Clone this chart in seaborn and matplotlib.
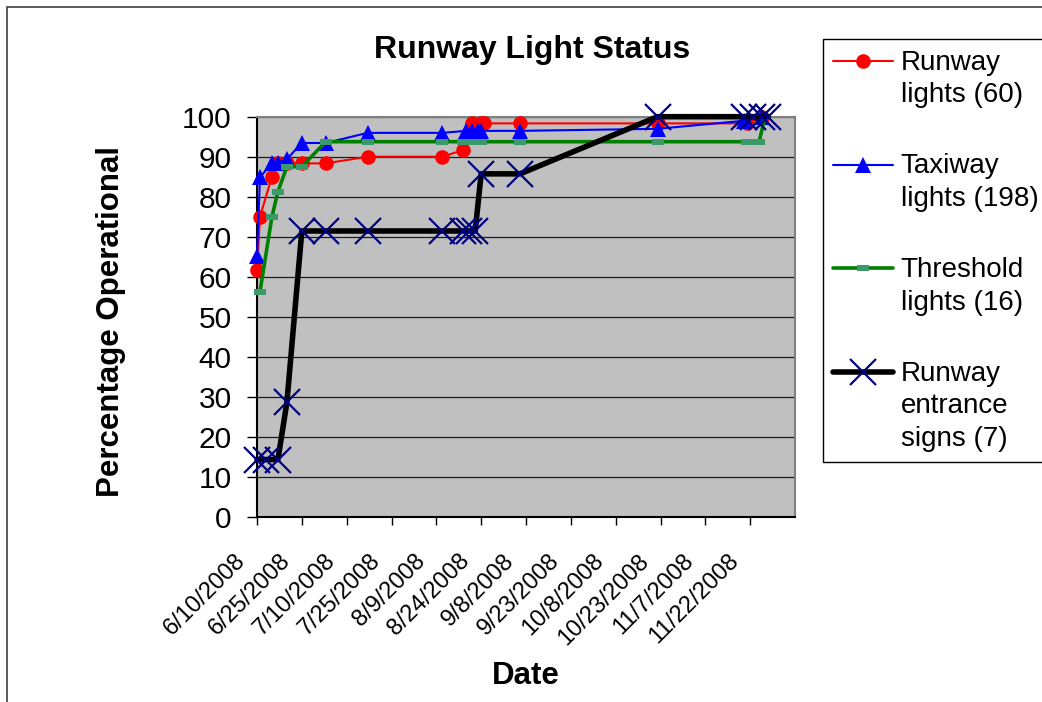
import numpy as np
import pandas as pd
import matplotlib
matplotlib.use("Agg")
import matplotlib.pyplot as plt
import matplotlib.dates as mdates
from matplotlib.patches import Rectangle
from matplotlib.ticker import FixedLocator
from matplotlib.transforms import ScaledTranslation
import seaborn as sns

# ---------------- data ----------------
runway_dates = ["2008-06-10", "2008-06-11", "2008-06-15", "2008-06-17", "2008-06-20", "2008-06-25",
                "2008-07-03", "2008-07-17", "2008-08-11", "2008-08-18", "2008-08-21", "2008-08-24",
                "2008-08-25", "2008-09-06", "2008-10-22", "2008-11-21", "2008-11-26"]
runway_pct = [61.67, 75.0, 85.0, 88.33, 88.33, 88.33, 88.33, 90.0, 90.0, 91.67, 98.33, 98.33,
              98.33, 98.33, 98.33, 98.33, 100.0]

taxiway_dates = ["2008-06-10", "2008-06-11", "2008-06-15", "2008-06-17", "2008-06-20", "2008-06-25",
                 "2008-07-03", "2008-07-17", "2008-08-11", "2008-08-19", "2008-08-21", "2008-08-23",
                 "2008-08-24", "2008-09-06", "2008-10-22", "2008-11-20", "2008-11-26"]
taxiway_pct = [65.15, 84.85, 88.38, 88.38, 89.39, 93.43, 93.43, 95.96, 95.96, 96.46, 96.46, 96.46,
               96.46, 96.46, 96.97, 98.99, 100.0]

threshold_dates = ["2008-06-11", "2008-06-15", "2008-06-17", "2008-06-20", "2008-06-25", "2008-07-03",
                   "2008-07-17", "2008-08-11", "2008-08-18", "2008-08-20", "2008-08-22", "2008-08-24",
                   "2008-09-06", "2008-10-22", "2008-11-21", "2008-11-25", "2008-11-27"]
threshold_pct = [56.25, 75.0, 81.25, 87.5, 87.5, 93.75, 93.75, 93.75, 93.75, 93.75, 93.75, 93.75,
                 93.75, 93.75, 93.75, 93.75, 100.0]

signs_dates = ["2008-06-10", "2008-06-13", "2008-06-17", "2008-06-20", "2008-06-25", "2008-07-03",
               "2008-07-17", "2008-08-11", "2008-08-18", "2008-08-20", "2008-08-22", "2008-08-24",
               "2008-09-06", "2008-10-22", "2008-11-20", "2008-11-23", "2008-11-26", "2008-11-28"]
signs_pct = [14.29, 14.29, 14.29, 28.57, 71.43, 71.43, 71.43, 71.43, 71.43, 71.43, 71.43, 85.71,
             85.71, 100.0, 100.0, 100.0, 100.0, 100.0]

series_labels = ["Runway\nlights (60)", "Taxiway\nlights (198)", "Threshold\nlights (16)",
                 "Runway\nentrance\nsigns (7)"]
tick_dates = ["2008-06-10", "2008-06-25", "2008-07-10", "2008-07-25", "2008-08-09", "2008-08-24",
              "2008-09-08", "2008-09-23", "2008-10-08", "2008-10-23", "2008-11-07", "2008-11-22"]
tick_labels = ["6/10/2008", "6/25/2008", "7/10/2008", "7/25/2008", "8/9/2008", "8/24/2008",
               "9/8/2008", "9/23/2008", "10/8/2008", "10/23/2008", "11/7/2008", "11/22/2008"]
x_range = ["2008-06-10", "2008-12-07"]
y_ticks = [0, 10, 20, 30, 40, 50, 60, 70, 80, 90, 100]

# ---------------- style ----------------
sns.set_theme(style="ticks")
plt.rcParams['font.family'] = ['Liberation Sans', 'DejaVu Sans']
plt.rcParams.update({'text.color': 'black', 'axes.labelcolor': 'black',
                     'xtick.color': 'black', 'ytick.color': 'black'})

W, H = 1042, 702
fig = plt.figure(figsize=(W / 100, H / 100), dpi=100)
fig.patch.set_facecolor('white')
ax = fig.add_axes([257 / W, 1 - 516.7 / H, 538 / W, 400 / H])
ax.set_facecolor('#C0C0C0')


def frame(dates, vals):
    return pd.DataFrame({"date": pd.to_datetime(dates), "pct": vals})


sns.lineplot(data=frame(runway_dates, runway_pct), x="date", y="pct", ax=ax,
             estimator=None, sort=False, color="#FF0000", linewidth=1.5,
             marker="o", markersize=10.5, markerfacecolor="#FF0000",
             markeredgecolor="#FF0000", markeredgewidth=0, label=series_labels[0],
             zorder=3, clip_on=False)
sns.lineplot(data=frame(taxiway_dates, taxiway_pct), x="date", y="pct", ax=ax,
             estimator=None, sort=False, color="#0000FF", linewidth=1.5,
             marker="^", markersize=11.5, markerfacecolor="#0000FF",
             markeredgecolor="#0000FF", markeredgewidth=0, label=series_labels[1],
             zorder=4, clip_on=False)
rect_marker = [(-1, -0.55), (1, -0.55), (1, 0.55), (-1, 0.55)]
sns.lineplot(data=frame(threshold_dates, threshold_pct), x="date", y="pct", ax=ax,
             estimator=None, sort=False, color="#008000", linewidth=2.6,
             marker=rect_marker, markersize=8, markerfacecolor="#3C9A6A",
             markeredgecolor="#3C9A6A", markeredgewidth=0, label=series_labels[2],
             zorder=5, clip_on=False)
sns.lineplot(data=frame(signs_dates, signs_pct), x="date", y="pct", ax=ax,
             estimator=None, sort=False, color="#000000", linewidth=4,
             marker="x", markersize=19, markerfacecolor="#000080",
             markeredgecolor="#000080", markeredgewidth=1.6, label=series_labels[3],
             zorder=6, clip_on=False)

# ---------------- axes ----------------
ax.set_xlim(mdates.date2num(pd.to_datetime(x_range[0])), mdates.date2num(pd.to_datetime(x_range[1])))
ax.set_ylim(0, 100)
ax.set_yticks(y_ticks)
ax.xaxis.set_major_locator(FixedLocator(mdates.date2num(pd.to_datetime(tick_dates))))
ax.set_xticklabels(tick_labels, rotation=45, ha='right', va='center', rotation_mode='anchor')
ax.grid(False)
ax.yaxis.grid(True, color='#1a1a1a', linewidth=0.9)
ax.set_axisbelow(True)

ax.tick_params(axis='y', direction='out', length=7.2, width=1, color='black',
               labelsize=21.5, pad=11, left=True, labelcolor='black')
ax.tick_params(axis='x', direction='out', length=6, width=1, color='black',
               labelsize=17, pad=23.5, bottom=True, labelcolor='black')
for lbl in ax.get_xticklabels():
    lbl.set_transform(lbl.get_transform() + ScaledTranslation(-15 / 100, 0, fig.dpi_scale_trans))

for s in ['left', 'bottom']:
    ax.spines[s].set_color('black')
    ax.spines[s].set_linewidth(1.5)
for s in ['top', 'right']:
    ax.spines[s].set_color('#808080')
    ax.spines[s].set_linewidth(1.5)

ax.set_title("Runway Light Status", fontsize=23, fontweight='bold', pad=42, x=0.511, color='black')
ax.set_xlabel("Date", fontsize=22.5, fontweight='bold', color='black')
ax.set_ylabel("Percentage Operational", fontsize=22.5, fontweight='bold', color='black')
ax.xaxis.set_label_coords(0.5, -0.361)
ax.yaxis.set_label_coords(-0.2435, 0.489)

# ---------------- legend ----------------
handles, labels = ax.get_legend_handles_labels()
leg = ax.legend(handles, labels, loc='upper left',
                bbox_to_anchor=(822.7 / W, 1 - 39.3 / H), bbox_transform=fig.transFigure,
                borderaxespad=0, borderpad=0.38, fontsize=20, handlelength=2.16,
                handleheight=1.1, handletextpad=0.27, labelspacing=1.62,
                frameon=True, fancybox=False, edgecolor='black', facecolor='white', framealpha=1)
leg.get_frame().set_linewidth(1.0)
for t in leg.get_texts():
    t.set_linespacing(1.33)
    t.set_color('black')
for col in leg._legend_handle_box.get_children():
    for row in col.get_children():
        row.align = 'top'

# figure border
fig.add_artist(Rectangle((7 / W, -0.05), 1.2, 1.05 - 7 / H, transform=fig.transFigure,
                         fill=False, edgecolor='#404040', linewidth=1.2))

fig.savefig("out.png", dpi=100)
